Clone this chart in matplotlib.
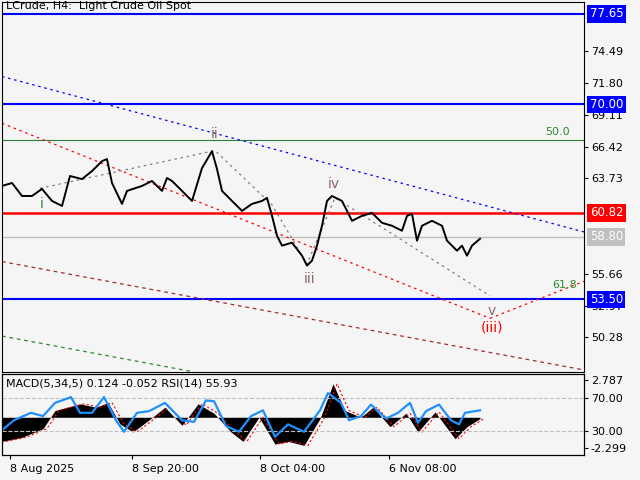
import matplotlib.pyplot as plt
import numpy as np

# price path (bar index ~ pixel column, price)
PX = [0, 10, 20, 30, 40, 50, 60, 68, 80, 90, 100, 105, 110, 120, 125, 140, 150, 160, 165,
      170, 180, 190, 200, 210, 215, 220, 230, 240, 250, 260, 265, 270, 275, 280, 290, 300,
      305, 310, 315, 320, 325, 330, 340, 350, 360, 370, 380, 390, 400, 405, 410, 415, 420,
      430, 440, 445, 455, 460, 465, 470, 478]
PRICE = [63.1, 63.35, 62.25, 62.25, 62.85, 61.83, 61.41, 63.94, 63.68, 64.36, 65.2, 65.37,
         63.35, 61.58, 62.68, 63.1, 63.52, 62.68, 63.77, 63.52, 62.68, 61.83, 64.61, 66.04,
         64.53, 62.68, 61.83, 60.99, 61.58, 61.83, 62.09, 60.57, 58.89, 58.05, 58.3, 57.2,
         56.36, 56.78, 58.05, 59.73, 61.83, 62.25, 61.83, 60.15, 60.57, 60.82, 59.98, 59.73,
         59.31, 60.57, 60.74, 58.47, 59.73, 60.15, 59.73, 58.47, 57.62, 58.05, 57.2, 58.05, 58.63]

H_LEVELS = [77.65, 70.00, 53.50]
RED_LEVEL = 60.82
GRAY_LEVEL = 58.80
FIB_50 = 66.97
RIGHT_TICKS = [74.49, 71.80, 69.11, 66.42, 63.73, 55.66, 52.97, 50.28]

WAVE_X = [38, 213, 270, 305, 333, 488]
WAVE_P = [62.9, 66.1, 61.5, 56.5, 62.1, 53.8]
WAVE_LABELS = [("i", 40, 61.6, "#3a8a3a"), ("ii", 213, 67.5, "#8a6a6a"), ("iii", 308, 55.2, "#8a6a6a"),
               ("iv", 332, 63.3, "#8a6a6a"), ("v", 490, 52.5, "#8a6a6a")]

BLUE_CH = ([0, 640], [72.36, 57.9])
RED_CH = ([0, 488], [68.4, 51.9])
RED_UP = ([488, 584], [51.9, 55.1])
BROWN_CH = ([0, 584], [56.7, 47.5])
GREEN_CH = ([0, 190], [50.4, 47.4])

# oscillator panel
MACD_X = [0, 20, 41, 53, 65, 78, 94, 106, 118, 131, 147, 163, 180, 196, 212, 229, 241, 257,
          273, 286, 302, 318, 331, 343, 359, 371, 388, 404, 416, 433, 453, 465, 478]
MACD = [-1.8, -1.5, -0.85, 0.5, 0.75, 1.0, 0.75, 1.1, -0.5, -1.1, -0.2, 0.75, -0.6, 1.0, 0.3,
        -1.1, -1.8, 0.0, -2.0, -1.8, -2.1, -0.1, 2.5, 0.5, 0.0, 0.75, -0.7, 0.3, -1.1, 0.4,
        -1.6, -0.7, -0.1]
RSI_X = [0, 12, 29, 41, 53, 69, 78, 90, 102, 114, 122, 135, 147, 163, 180, 192, 204, 212,
         224, 237, 249, 261, 273, 286, 302, 318, 326, 339, 347, 359, 369, 384, 396, 408, 416,
         424, 437, 449, 457, 463, 478]
RSI = [31, 43, 52, 48, 64, 71, 52, 52, 71, 43, 29, 52, 54, 64, 43, 41, 67, 66, 36, 29, 48, 55,
       23, 38, 29, 55, 76, 64, 43, 48, 62, 45, 52, 64, 40, 54, 62, 43, 38, 52, 55]

DATE_POS = [8, 130, 258, 387]
DATE_LABELS = ["8 Aug 2025", "8 Sep 20:00", "8 Oct 04:00", "6 Nov 08:00"]

BG = "#f5f5f5"


def main() -> None:
    plt.rcParams.update({"font.family": "DejaVu Sans", "font.size": 8})
    fig = plt.figure(figsize=(6.4, 4.8), dpi=100, facecolor=BG)
    ax = fig.add_axes([2 / 640, 1 - 372 / 480, 582 / 640, 370 / 480], facecolor=BG)
    ax.set_xlim(0, 582)
    ax.set_ylim(47.36, 78.66)

    for lvl in H_LEVELS:
        ax.axhline(lvl, color="#0000ff", lw=1.5)
    ax.axhline(RED_LEVEL, color="#ff0000", lw=1.8)
    ax.axhline(GRAY_LEVEL, color="#c0c0c0", lw=1.0)
    ax.axhline(FIB_50, color="#2e7d32", lw=0.8)
    ax.text(568, FIB_50 + 0.25, "50.0", color="#2e8b2e", ha="right", va="bottom", fontsize=8)
    ax.text(575, 54.3, "61.8", color="#2e8b2e", ha="right", va="bottom", fontsize=8)

    ax.plot(*BLUE_CH, color="#0000ff", ls=(0, (2, 3)), lw=0.9)
    ax.plot(*RED_CH, color="#ff0000", ls=(0, (2, 3)), lw=0.9)
    ax.plot(*RED_UP, color="#ff0000", ls=(0, (2, 3)), lw=0.9)
    ax.plot(*BROWN_CH, color="#a52a2a", ls=(0, (3, 3)), lw=0.9)
    ax.plot(*GREEN_CH, color="#2e8b2e", ls=(0, (3, 3)), lw=0.9)
    ax.plot(WAVE_X, WAVE_P, color="#808080", ls=(0, (2, 3)), lw=0.9)

    ax.plot(PX, PRICE, color="black", lw=1.4)

    for text, x, y, c in WAVE_LABELS:
        ax.text(x, y, text, color=c, ha="center", va="center", fontsize=10)
    ax.text(490, 51.1, "(iii)", color="#ff0000", ha="center", va="center", fontsize=10)
    ax.text(4, 78.3, "LCrude, H4:  Light Crude Oil Spot", ha="left", va="center", fontsize=8)

    ax.set_xticks([])
    ax.yaxis.tick_right()
    ax.set_yticks(RIGHT_TICKS, [f"{v:.2f}" for v in RIGHT_TICKS])
    ax.tick_params(axis="y", length=3, pad=2, labelsize=8)
    for lvl, c in [(77.65, "#0000ff"), (70.00, "#0000ff"), (53.50, "#0000ff"),
                   (RED_LEVEL, "#ff0000"), (GRAY_LEVEL, "#c0c0c0")]:
        ax.text(1.01, lvl, f"{lvl:.2f}", transform=ax.get_yaxis_transform(), color="white",
                ha="left", va="center", fontsize=8.5, zorder=10,
                bbox=dict(boxstyle="square,pad=0.2", fc=c, ec="none"))

    # oscillator
    ax2 = fig.add_axes([2 / 640, 1 - 455 / 480, 582 / 640, 81 / 480], facecolor=BG)
    ax2.set_xlim(0, 582)
    ax2.set_ylim(-2.82, 3.236)
    ax2.fill_between(MACD_X, MACD, 0, color="black", lw=0)
    ax2.plot(np.array(MACD_X) + 4, MACD, color="#ff0000", ls=(0, (2, 2)), lw=0.8)
    ax2.set_xticks(DATE_POS, DATE_LABELS)
    ax2.tick_params(axis="x", length=3, labelsize=8)
    for lbl in ax2.get_xticklabels():
        lbl.set_horizontalalignment("left")

    ax3 = ax2.twinx()
    ax3.set_ylim(0.9, 99)
    ax3.axhline(70, color="#c0c0c0", ls="--", lw=0.8)
    ax3.axhline(30, color="#c0c0c0", ls="--", lw=0.8)
    ax3.plot(RSI_X, RSI, color="#1e90ff", lw=1.6)
    ax3.set_yticks([70, 30], ["70.00", "30.00"])
    ax3.tick_params(axis="y", length=3, pad=2, labelsize=8)

    ax2.yaxis.tick_right()
    ax2.set_yticks([2.787, -2.299], ["2.787", "-2.299"])
    ax2.tick_params(axis="y", length=3, pad=2, labelsize=8)
    ax2.text(4, 2.5, "MACD(5,34,5) 0.124 -0.052 RSI(14) 55.93", ha="left", va="center", fontsize=8)

    fig.savefig("out.png", dpi=100, facecolor=BG)


if __name__ == "__main__":
    main()
